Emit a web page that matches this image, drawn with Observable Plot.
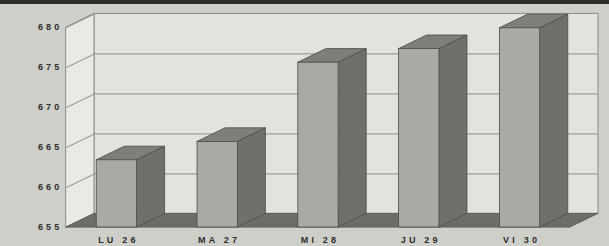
<!DOCTYPE html>
<html>
<head>
<meta charset="utf-8">
<script src="https://cdn.jsdelivr.net/npm/d3@7"></script>
<script src="https://cdn.jsdelivr.net/npm/@observablehq/plot@0.6"></script>
<style>
  html, body { margin: 0; padding: 0; background: #cfcfca; }
  #wrap { position: relative; width: 609px; height: 246px; overflow: hidden; }
  #band { position: absolute; left: 0; top: 0; width: 609px; height: 4px; background: #2e2e2c; }
  #wrap svg text { letter-spacing: 3.2px; }
</style>
</head>
<body>
<div id="wrap"><div id="band"></div></div>
<script>
// ---- data ----
const days = ["LU 26", "MA 27", "MI 28", "JU 29", "VI 30"];
const values = [663.4, 665.7, 675.6, 677.3, 679.9];
const yTicks = [655, 660, 665, 670, 675, 680];

// ---- 3D geometry (in scale units) ----
const yBase = 655, yTop = 680;
const d = 0.278;   // depth along x
const D = 1.7;     // depth along y
const hw = 0.2;    // half width of bar front
const xL = -0.5, xR = days.length - 0.5;

const bars = days.map((day, i) => ({day, i, v: values[i]}));

// polygon rows for Plot.area (x1,y1 edge then x2,y2 edge)
const sideRows = bars.flatMap(b => [
  {k: b.i, x1: b.i + hw, y1: yBase, x2: b.i + hw, y2: b.v},
  {k: b.i, x1: b.i + hw + d, y1: yBase + D, x2: b.i + hw + d, y2: b.v + D}
]);
const topRows = bars.flatMap(b => [
  {k: b.i, x1: b.i - hw, y1: b.v, x2: b.i + hw, y2: b.v},
  {k: b.i, x1: b.i - hw + d, y1: b.v + D, x2: b.i + hw + d, y2: b.v + D}
]);
const leftWall = [
  {x1: xL, y1: yBase, x2: xL, y2: yTop},
  {x1: xL + d, y1: yBase + D, x2: xL + d, y2: yTop + D}
];
const floorRows = [
  {x1: xL, y1: yBase, x2: xR, y2: yBase},
  {x1: xL + d, y1: yBase + D, x2: xR + d, y2: yBase + D}
];

const chart = Plot.plot({
  width: 609,
  height: 246,
  marginLeft: 66,
  marginRight: 11,
  marginTop: 13,
  marginBottom: 19,
  style: {background: "transparent", fontFamily: "Liberation Sans, Arial, sans-serif", fontSize: "9px", fontWeight: "bold", color: "#2e2e2c"},
  x: {domain: [xL, xR + d], axis: null},
  y: {domain: [yBase, yTop + D + 0.05], axis: null},
  marks: [
    // back wall
    Plot.rect([0], {x1: xL + d, x2: xR + d, y1: yBase + D, y2: yTop + D, fill: "#e2e2de", stroke: "#8c8c88", strokeWidth: 1}),
    Plot.ruleY(yTicks.slice(1, -1), {y: v => v + D, x1: xL + d, x2: xR + d, stroke: "#8c8c88", strokeWidth: 1}),
    // left wall
    Plot.area(leftWall, {x1: "x1", y1: "y1", x2: "x2", y2: "y2", fill: "#e9e9e5", stroke: "#8c8c88", strokeWidth: 1}),
    Plot.link(yTicks, {x1: xL, y1: v => v, x2: xL + d, y2: v => v + D, stroke: "#8c8c88", strokeWidth: 1}),
    // floor
    Plot.area(floorRows, {x1: "x1", y1: "y1", x2: "x2", y2: "y2", fill: "#6c6c68", stroke: "#555552", strokeWidth: 0.8}),
    // bars
    Plot.area(sideRows, {x1: "x1", y1: "y1", x2: "x2", y2: "y2", z: "k", fill: "#6f6f6b", stroke: "#4a4a47", strokeWidth: 0.8}),
    Plot.area(topRows, {x1: "x1", y1: "y1", x2: "x2", y2: "y2", z: "k", fill: "#7e7e7a", stroke: "#4a4a47", strokeWidth: 0.8}),
    Plot.rect(bars, {x1: b => b.i - hw, x2: b => b.i + hw, y1: yBase, y2: "v", fill: "#a9a9a5", stroke: "#4a4a47", strokeWidth: 0.8}),
    // labels
    Plot.text(yTicks, {x: xL, y: v => v, text: v => String(v), textAnchor: "end", dx: -4, fill: "#2e2e2c"}),
    Plot.text(bars, {x: "i", y: yBase, text: "day", dy: 13, dx: 1.5, fill: "#2e2e2c"})
  ]
});
document.getElementById("wrap").appendChild(chart);
</script>
</body>
</html>
